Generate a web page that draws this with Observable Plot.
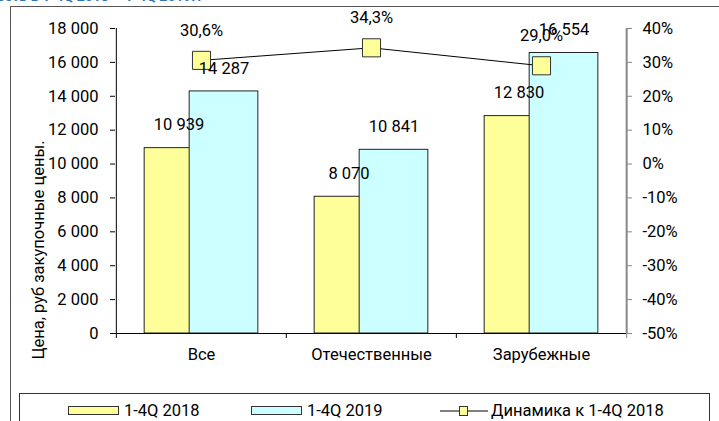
<!DOCTYPE html>
<html><head><meta charset="utf-8">
<script src="https://cdn.jsdelivr.net/npm/d3@7"></script>
<script src="https://cdn.jsdelivr.net/npm/@observablehq/plot@0.6"></script>
<style>
html,body{margin:0;padding:0;background:#fff;overflow:hidden;}
body{width:719px;height:421px;position:relative;font-family:Roboto,sans-serif;color:#000;}
#chart{position:absolute;left:0;top:0;}
#title{position:absolute;left:-3px;top:-12px;font:bold 14px Roboto,sans-serif;color:#2E74B5;white-space:nowrap;}
#frame{position:absolute;left:10px;top:6px;width:760px;height:460px;border-left:1px solid #555;border-top:1px solid #555;}
#ylab{position:absolute;left:38px;top:250px;transform:translate(-50%,-50%) rotate(-90deg);white-space:nowrap;font-size:16.5px;}
#legend{position:absolute;left:19px;top:393px;width:691px;height:40px;border:1px solid #333;box-sizing:border-box;}
.sw{position:absolute;top:406px;width:51px;height:9px;box-sizing:border-box;border:1px solid #333;}
.lt{position:absolute;top:402px;height:18px;line-height:18px;font-size:16.5px;white-space:nowrap;}
</style>
</head><body>
<div id="title"></div>
<div id="frame"></div>
<div id="chart"></div>
<div id="ylab"></div>
<div id="legend"></div>
<div class="sw" style="left:68px;background:#FFFF99"></div>
<div class="lt" id="l1" style="left:124px"></div>
<div class="sw" style="left:251px;background:#CCFFFF"></div>
<div class="lt" id="l2" style="left:307px"></div>
<svg style="position:absolute;left:438px;top:402px" width="54" height="18">
  <line x1="2" x2="50" y1="9" y2="9" stroke="#000" stroke-width="1"/>
  <rect x="21.5" y="4.5" width="8" height="9" fill="#FFFF99" stroke="#333"/>
</svg>
<div class="lt" id="l3" style="left:491px"></div>
<script>
const titleText = "ость в 1-4Q 2018 – 1-4Q 2019г.";
const yAxisLabel = "Цена, руб закупочные цены.";
const categories = ["Все", "Отечественные", "Зарубежные"];
const seriesNames = ["1-4Q 2018", "1-4Q 2019", "Динамика к 1-4Q 2018"];
const price2018 = [10939, 8070, 12830];
const price2019 = [14287, 10841, 16554];
const dynamics = [30.6, 34.3, 29.0];
const priceTicks = [0, 2000, 4000, 6000, 8000, 10000, 12000, 14000, 16000, 18000];
const pctTicks = [-50, -40, -30, -20, -10, 0, 10, 20, 30, 40];

document.getElementById("title").textContent = titleText;
document.getElementById("ylab").textContent = yAxisLabel;
document.getElementById("l1").textContent = seriesNames[0];
document.getElementById("l2").textContent = seriesNames[1];
document.getElementById("l3").textContent = seriesNames[2];

const W = 719, H = 421, mL = 115, mR = 93, mT = 28, mB = 88;
const yMax = priceTicks[priceTicks.length - 1];
const pMin = pctTicks[0], pMax = pctTicks[pctTicks.length - 1];
// map percent onto the primary (price) scale for the secondary axis
const toY = p => (p - pMin) / (pMax - pMin) * yMax;
const bw = (W - mL - mR) / categories.length;

const rows2018 = categories.map((c, i) => ({cat: c, v: price2018[i]}));
const rows2019 = categories.map((c, i) => ({cat: c, v: price2019[i]}));
const dynRows = categories.map((c, i) => ({cat: c, p: dynamics[i]}));

const fmtNum = d => d3.format(",")(d).replace(/,/g, " ");
const fmtPct = p => d3.format(".1f")(p).replace(".", ",") + "%";

const wide = 57, narrow = 12; // half-extents of the overlapped bar group
const inA = bw / 2 - wide, inB = bw / 2 - narrow;

const chart = Plot.plot({
  width: W, height: H,
  marginLeft: mL, marginRight: mR, marginTop: mT, marginBottom: mB,
  style: {fontFamily: "Roboto, sans-serif", fontSize: "16.5px", color: "#000", background: "transparent"},
  x: {type: "band", domain: categories, padding: 0},
  y: {domain: [0, yMax]},
  marks: [
    Plot.barY(rows2018, {x: "cat", y: "v", fill: "#FFFF99", stroke: "#222", strokeWidth: 1, insetLeft: inA, insetRight: inB}),
    Plot.barY(rows2019, {x: "cat", y: "v", fill: "#CCFFFF", stroke: "#222", strokeWidth: 1, insetLeft: inB, insetRight: inA}),
    Plot.ruleY([0], {stroke: "#000"}),
    Plot.ruleX([categories[0]], {dx: -bw / 2, y1: 0, y2: yMax, stroke: "#000"}),
    Plot.ruleX([categories[categories.length - 1]], {dx: bw / 2, y1: 0, y2: yMax, stroke: "#888", strokeWidth: 2}),
    Plot.ruleX(categories, {dx: -bw / 2, y1: 0, y2: 0, insetBottom: -5, stroke: "#000"}),
    Plot.ruleX([categories[categories.length - 1]], {dx: bw / 2, y1: 0, y2: 0, insetBottom: -5, stroke: "#888"}),
    Plot.axisY(priceTicks, {anchor: "left", tickFormat: fmtNum, tickSize: 5, tickPadding: 12, label: null, stroke: "#000", fill: "#000"}),
    Plot.axisY(pctTicks.map(toY), {anchor: "right", tickFormat: v => Math.round(v / yMax * (pMax - pMin) + pMin) + "%", tickSize: 5, tickPadding: 11, label: null, stroke: "#888", fill: "#000"}),
    Plot.axisX({tickSize: 0, tickPadding: 15, label: null}),
    Plot.line(dynRows, {x: "cat", y: d => toY(d.p), stroke: "#000", strokeWidth: 1}),
    Plot.dot(dynRows, {x: "cat", y: d => toY(d.p), symbol: "square", r: 10.2, fill: "#FFFF99", stroke: "#333", strokeWidth: 1}),
    Plot.text(rows2018, {x: "cat", y: "v", text: d => fmtNum(d.v), dx: (inA - inB) / 2, dy: -23}),
    Plot.text(rows2019, {x: "cat", y: "v", text: d => fmtNum(d.v), dx: (inB - inA) / 2, dy: -23}),
    Plot.text(dynRows, {x: "cat", y: d => toY(d.p), text: d => fmtPct(d.p), dy: -30})
  ]
});
document.getElementById("chart").appendChild(chart);
</script>
</body></html>
